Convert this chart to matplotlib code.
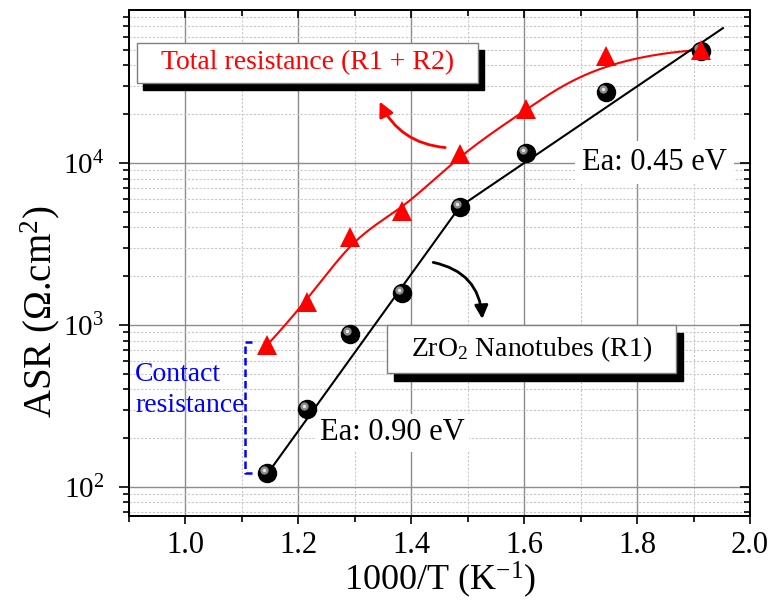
import numpy as np
import matplotlib
matplotlib.use("Agg")
import matplotlib.pyplot as plt
from matplotlib.patches import Rectangle
from matplotlib.ticker import LogLocator, MultipleLocator, LogFormatterSciNotation, NullFormatter
from matplotlib.transforms import offset_copy

plt.rcParams["font.family"] = ["Liberation Serif", "DejaVu Serif"]
plt.rcParams["mathtext.fontset"] = "custom"
plt.rcParams["mathtext.rm"] = "Liberation Serif"
plt.rcParams["mathtext.it"] = "Liberation Serif:italic"

# inverse temperature (1000/T, K^-1)
inv_temp = [1.145, 1.215, 1.292, 1.384, 1.486, 1.604, 1.745, 1.913]
# total resistance R1 + R2 (ohm cm2)
asr_total = [753, 1380, 3490, 5080, 11300, 21400, 45700, 49900]
# ZrO2 nanotubes R1 (ohm cm2)
asr_r1 = [122, 302, 879, 1571, 5370, 11470, 27500, 49000]
# Arrhenius fit segments for R1 (0.90 eV low T side, 0.45 eV high T side)
fit_x = [1.145, 1.486, 1.952]
fit_asr = [120, 5370, 68000]
# contact resistance bracket
contact_x = 1.106
contact_lo, contact_hi = 122, 785

XMIN, XMAX = 0.9, 2.0
YMIN, YMAX = 66, 88000


def bspline(xs, ys, n=300):
    # clamped cubic B-spline with the points as control polygon (x, log y)
    P = np.column_stack([xs, np.log10(ys)])
    k = 3
    m = len(P)
    knots = np.concatenate([np.zeros(k), np.arange(m - k + 1), np.full(k, m - k)]).astype(float)
    u = np.linspace(0, m - k, n)
    u[-1] -= 1e-9

    def basis(i, d, t):
        if d == 0:
            return ((knots[i] <= t) & (t < knots[i + 1])).astype(float)
        a = 0.0
        if knots[i + d] != knots[i]:
            a = (t - knots[i]) / (knots[i + d] - knots[i]) * basis(i, d - 1, t)
        b = 0.0
        if knots[i + d + 1] != knots[i + 1]:
            b = (knots[i + d + 1] - t) / (knots[i + d + 1] - knots[i + 1]) * basis(i + 1, d - 1, t)
        return a + b

    C = sum(basis(i, k, u)[:, None] * P[i] for i in range(m))
    return C[:, 0], 10 ** C[:, 1]


fig = plt.figure(figsize=(7.71, 6.03), dpi=100)
ax = fig.add_axes([0.1673, 0.1443, 0.8055, 0.8391])
ax.set_yscale("log")
ax.set_xlim(XMIN, XMAX)
ax.set_ylim(YMIN, YMAX)

ax.xaxis.set_major_locator(MultipleLocator(0.2))
ax.xaxis.set_minor_locator(MultipleLocator(0.1))
ax.yaxis.set_major_locator(LogLocator(base=10))
ax.yaxis.set_minor_locator(LogLocator(base=10, subs=np.arange(2, 10)))
ax.yaxis.set_major_formatter(LogFormatterSciNotation())
ax.yaxis.set_minor_formatter(NullFormatter())
ax.xaxis.set_major_formatter(plt.FuncFormatter(lambda v, p: f"{v:.1f}"))

ax.grid(True, which="major", color="#8c8c8c", lw=1.0, ls="-")
ax.grid(True, which="minor", color="#c8c8c8", lw=0.8, ls=(0, (2, 1.5)))
ax.set_axisbelow(True)
for s in ax.spines.values():
    s.set_linewidth(1.3)
ax.tick_params(which="both", direction="out", width=1.2)
ax.tick_params(axis="x", which="major", length=6, pad=5, labelsize=22)
ax.tick_params(axis="y", which="major", length=7, pad=11, labelsize=21)
ax.tick_params(which="minor", length=4)

# inward ticks on top and right
ax_t = ax.twiny()
ax_t.set_xlim(XMIN, XMAX)
ax_t.xaxis.set_major_locator(MultipleLocator(0.2))
ax_t.xaxis.set_minor_locator(MultipleLocator(0.1))
ax_t.tick_params(which="both", direction="in", labeltop=False, width=1.2)
ax_t.tick_params(which="major", length=6)
ax_t.tick_params(which="minor", length=4)
ax_r = ax.twinx()
ax_r.set_yscale("log")
ax_r.set_ylim(YMIN, YMAX)
ax_r.yaxis.set_minor_locator(LogLocator(base=10, subs=np.arange(2, 10)))
ax_r.tick_params(which="both", direction="in", labelright=False, width=1.2)
ax_r.tick_params(which="major", length=7)
ax_r.tick_params(which="minor", length=4)
for a in (ax_t, ax_r):
    a.patch.set_visible(False)
    for s in a.spines.values():
        s.set_linewidth(1.3)

ax.set_xlabel("1000/T (K$^{-1}$)", fontsize=26, va="center")
ax.xaxis.set_label_coords(0.5, -0.126)
ax.set_ylabel("ASR ($\\Omega$.cm$^2$)", fontsize=28, va="center")
ax.yaxis.set_label_coords(-0.143, 0.403)

# lines
rx, ry = bspline(inv_temp, asr_total)
ax.plot(rx, ry, color="red", lw=1.5, zorder=3)
ax.plot(fit_x, fit_asr, color="black", lw=1.5, zorder=3)

# markers
ax.plot(inv_temp, asr_r1, "o", ms=13, color="black", zorder=4)
hl = offset_copy(ax.transData, fig=fig, x=-3, y=3, units="dots")
ax.plot(inv_temp, asr_r1, "o", ms=6, color="#8a8a8a", mew=0, transform=hl, zorder=5)
ax.plot(inv_temp, asr_r1, "o", ms=2.5, color="#e8e8e8", mew=0, transform=hl, zorder=5)
ax.plot(inv_temp, asr_total, "^", ms=15, color="red", mew=0, zorder=6)

# contact resistance bracket
ax.plot([contact_x + 0.012, contact_x, contact_x, contact_x + 0.012],
        [contact_lo, contact_lo, contact_hi, contact_hi],
        color="blue", lw=1.8, ls=(0, (3, 1.6)), zorder=4)
ax.text(0.911, 395, "Contact\nresistance", color="blue", fontsize=20,
        ha="left", va="center", linespacing=1.35, zorder=6)

# activation energies
ax.text(1.830, 1.0e4, "Ea: 0.45 eV", fontsize=22, ha="center", va="center",
        bbox=dict(fc="white", ec="none", pad=5), zorder=2)
ax.text(1.366, 215, "Ea: 0.90 eV", fontsize=22, ha="center", va="center",
        bbox=dict(fc="white", ec="none", pad=3), zorder=2)

# arrows
ax.annotate("", xy=(1.342, 24800), xytext=(1.465, 12400),
            arrowprops=dict(arrowstyle="-|>", color="red", lw=2,
                            mutation_scale=22,
                            connectionstyle="arc3,rad=-0.3"), zorder=5)
ax.annotate("", xy=(1.526, 1045), xytext=(1.434, 2450),
            arrowprops=dict(arrowstyle="-|>", color="black", lw=2,
                            mutation_scale=20,
                            connectionstyle="arc3,rad=-0.4"), zorder=5)


# boxed labels with drop shadow (axes fraction)
def shadow_box(x0, y0, w, h, dx, dy, text, color):
    ax.add_patch(Rectangle((x0 + dx, y0 - dy), w, h, transform=ax.transAxes,
                           fc="black", ec="black", zorder=7))
    ax.add_patch(Rectangle((x0, y0), w, h, transform=ax.transAxes,
                           fc="white", ec="#7f7f7f", lw=1, zorder=8))
    ax.text(x0 + w / 2, y0 + h / 2, text, transform=ax.transAxes, color=color,
            fontsize=20, ha="center", va="center", zorder=9)


shadow_box(0.0129, 0.856, 0.549, 0.079, 0.0097, 0.0138,
           "Total resistance (R1 + R2)", "red")
shadow_box(0.415, 0.283, 0.465, 0.095, 0.0113, 0.0158,
           "ZrO$_2$ Nanotubes (R1)", "black")

fig.savefig("out.png", dpi=100)
